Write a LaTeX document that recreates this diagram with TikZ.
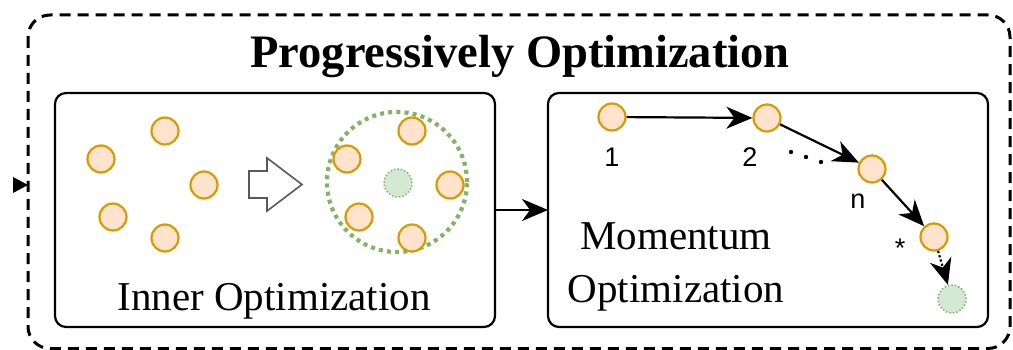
\documentclass[tikz,border=0pt]{standalone}
\usepackage{fontspec}
\setmainfont{Liberation Serif}
\newfontfamily\numfont{Liberation Sans}
\usetikzlibrary{arrows.meta}
\definecolor{orstroke}{HTML}{D79B00}
\definecolor{orfill}{HTML}{FFE3CC}
\definecolor{grstroke}{HTML}{82B366}
\definecolor{grfill}{HTML}{D5E8D4}
\tikzset{
  pt/.style={circle, draw=orstroke, fill=orfill, line width=2.2pt, minimum size=27pt, inner sep=0pt},
  goal/.style={circle, draw=grstroke, fill=grfill, line width=1.5pt, dash pattern=on 1.5pt off 2pt, minimum size=28pt, inner sep=0pt},
  panel/.style={draw, line width=2.2pt, rounded corners=11pt},
  arr/.style={line width=2.2pt, -{Stealth[length=26pt,width=22pt,inset=8pt]}},
  lbl/.style={font=\numfont\fontsize{27}{29}\selectfont, inner sep=0pt, anchor=base},
  big/.style={font=\fontsize{41}{44}\selectfont, inner sep=0pt, anchor=base}
}
\begin{document}
\begin{tikzpicture}[x=1pt, y=-1pt]
\useasboundingbox (0,0) rectangle (1013,350);
% outer dashed frame
\draw[line width=3pt, dash pattern=on 11pt off 7pt, rounded corners=22pt] (28,15) rectangle (1010,348.5);
\fill (13,177) -- (28,185) -- (13,193) -- cycle;
% title
\node[font=\bfseries\fontsize{46.5}{50}\selectfont, inner sep=0pt, anchor=base] (title) at (520,68) {Progressively Optimization};
% panels
\draw[panel] (55,93) rectangle (495,327);
\draw[panel] (548,93) rectangle (988,327);
\coordinate (lout) at (495,210);
\coordinate (rin) at (548,210);
\draw[arr] (lout) -- (rin);
% inner optimization
\node[pt] (a1) at (165,131) {};
\node[pt] (a2) at (101,159) {};
\node[pt] (a3) at (204,185) {};
\node[pt] (a4) at (113,217) {};
\node[pt] (a5) at (165,238) {};
\draw[draw=black!65, fill=white, line width=1.6pt, line join=miter]
  (249,171) -- (267,171) -- (267,158) -- (302,184.5) -- (267,211) -- (267,198) -- (249,198) -- cycle;
\node[circle, draw=grstroke, line width=4.2pt, dash pattern=on 4pt off 4.2pt, minimum size=140pt, inner sep=0pt] (cl) at (397,182) {};
\node[goal] (c0) at (398,183) {};
\node[pt] (b1) at (412,131) {};
\node[pt] (b2) at (347,159) {};
\node[pt] (b3) at (450,185) {};
\node[pt] (b4) at (359,217) {};
\node[pt] (b5) at (412,238) {};
\node[big] (inner) at (274,310) {Inner Optimization};
% momentum optimization
\node[pt] (m1) at (612,117) {};
\node[pt] (m2) at (767,118) {};
\node[pt] (mn) at (872,169) {};
\node[pt] (ms) at (934,237) {};
\node[goal] (mg) at (952,299) {};
\draw[arr] (m1) -- (m2);
\draw[arr] (m2) -- (mn);
\draw[arr] (mn) -- (ms);
\draw[arr, dash pattern=on 2.2pt off 2.2pt] (ms) -- (mg);
\node[lbl] (l1) at (612,167) {1};
\node[lbl] (l2) at (750,167) {2};
\node[lbl] (ln) at (858,208) {n};
\node[lbl] (ls) at (900,258) {*};
\fill (791,152) circle (2.2pt);
\fill (806,157) circle (2.2pt);
\fill (821,162) circle (2.2pt);
\node[big] (mom1) at (676,250) {Momentum};
\node[big] (mom2) at (676,302) {Optimization};
\end{tikzpicture}
\end{document}
